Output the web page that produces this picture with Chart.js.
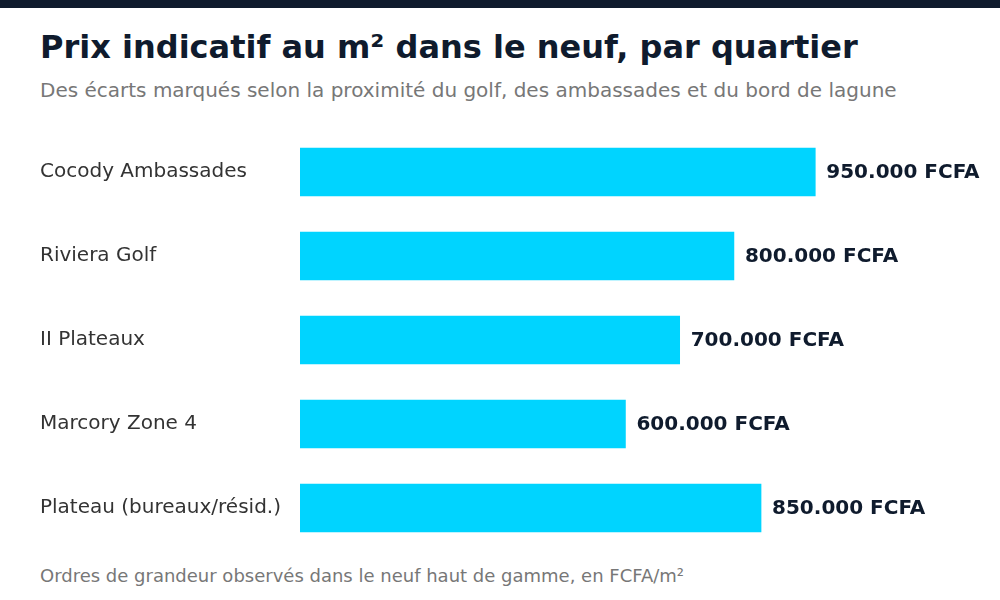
<!DOCTYPE html>
<html>
<head>
<meta charset="utf-8">
<script src="https://cdn.jsdelivr.net/npm/chart.js@4"></script>
<style>
  body { margin:0; width:1000px; height:600px; background:#fff; font-family:"DejaVu Sans", sans-serif; position:relative; overflow:hidden; }
  .stripe { position:absolute; left:0; top:0; width:1000px; height:8px; background:#0f1b2d; }
  .title { position:absolute; left:40px; top:31px; font-size:32px; line-height:1; font-weight:bold; color:#0f1b2d; white-space:nowrap; }
  .sub { position:absolute; left:40px; top:80px; font-size:20px; line-height:1; color:#777; white-space:nowrap; }
  .foot { position:absolute; left:40px; top:567px; font-size:18px; line-height:1; color:#777; white-space:nowrap; }
  #chart { position:absolute; left:0; top:118px; }
</style>
</head>
<body>
<div class="stripe"></div>
<div class="title">Prix indicatif au m² dans le neuf, par quartier</div>
<div class="sub">Des écarts marqués selon la proximité du golf, des ambassades et du bord de lagune</div>
<canvas id="chart" width="1000" height="444"></canvas>
<div class="foot">Ordres de grandeur observés dans le neuf haut de gamme, en FCFA/m²</div>
<script>
let quartiers = ['Cocody Ambassades','Riviera Golf','II Plateaux','Marcory Zone 4','Plateau (bureaux/résid.)'];
let prix = [950000,800000,700000,600000,850000];

let fmt = (v)=> String(v).replace(/\B(?=(\d{3})+(?!\d))/g,'.')+' FCFA';

// labels at the end of each bar
let valueLabels = {
    id:'valueLabels',
    afterDatasetsDraw(chart){
        let c = chart.ctx;
        let meta = chart.getDatasetMeta(0);
        c.save();
        c.font = 'bold 20px "DejaVu Sans"';
        c.fillStyle = '#0f1b2d';
        c.textAlign = 'left';
        c.textBaseline = 'middle';
        meta.data.forEach((bar,i)=>{
            c.fillText(fmt(prix[i]), bar.x+11, bar.y+1);
        });
        c.restore();
    }
};

let ctx = document.getElementById("chart").getContext("2d");
let chart = new Chart(ctx,{
    type:'bar',
    data:{
        labels:quartiers,
        datasets:[{
            data:prix,
            backgroundColor:'#00d4ff',
            borderWidth:0,
            barThickness:48,
        }]
    },
    options:{
        indexAxis:'y',
        animation:false,
        responsive:false,
        layout:{ padding:{left:40,right:22,top:0,bottom:0} },
        plugins:{
            legend:{display:false},
            tooltip:{enabled:false},
        },
        scales:{
            x:{
                display:false,
                min:0,
                max:1250000,
            },
            y:{
                grid:{display:false},
                border:{display:false},
                afterFit:(s)=>{ s.width = 260; },
                ticks:{
                    crossAlign:'far',
                    color:'#333',
                    padding:0,
                    font:{ size:20, family:'DejaVu Sans' }
                }
            }
        }
    },
    plugins:[valueLabels]
});
</script>
</body>
</html>
